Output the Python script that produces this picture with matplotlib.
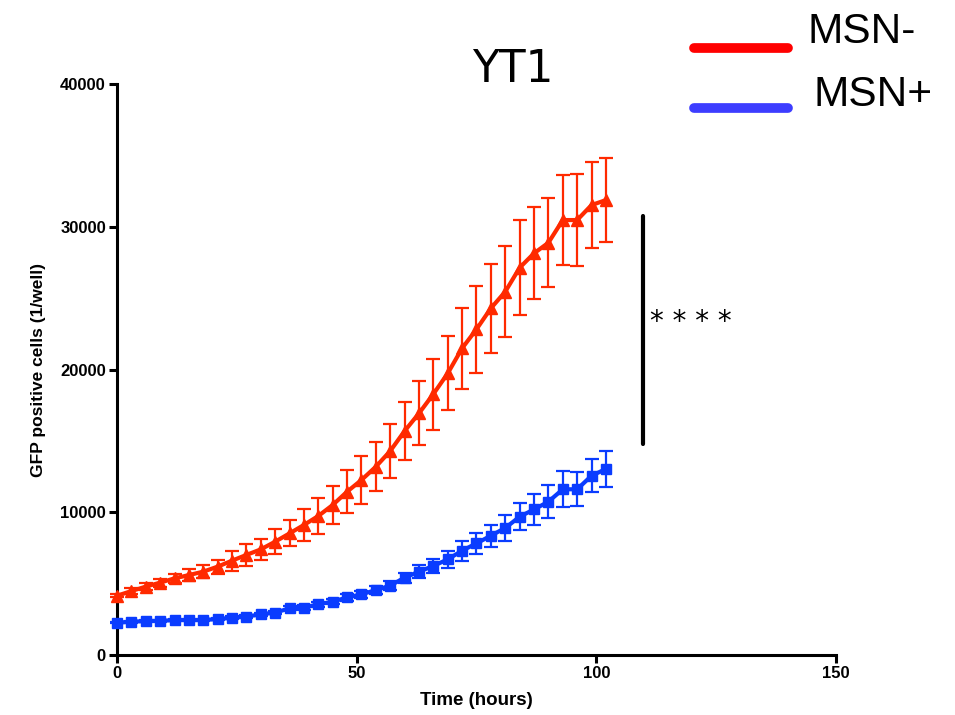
import matplotlib
matplotlib.use("Agg")
import matplotlib.pyplot as plt
from matplotlib.lines import Line2D
import numpy as np

time_h = list(range(0, 103, 3))

msn_minus = [4150, 4480, 4790, 5070, 5370, 5600, 5840, 6190, 6610, 7010, 7400, 7940,
             8520, 9110, 9740, 10510, 11440, 12260, 13190, 14290, 15690, 16930, 18280,
             19730, 21490, 22820, 24290, 25450, 27130, 28140, 28880, 30470, 30470,
             31520, 31870]
msn_minus_err = [120, 200, 250, 280, 300, 410, 470, 490, 700, 760, 760, 860, 910, 1090,
                 1240, 1320, 1490, 1650, 1700, 1915, 2030, 2250, 2490, 2590, 2830, 3060,
                 3100, 3180, 3330, 3210, 3130, 3180, 3200, 3010, 2970]

msn_plus = [2270, 2330, 2380, 2390, 2450, 2450, 2450, 2520, 2610, 2690, 2850, 2970,
            3270, 3320, 3550, 3740, 4030, 4250, 4550, 4860, 5420, 5840, 6240, 6700,
            7310, 7820, 8360, 8900, 9690, 10200, 10740, 11610, 11610, 12560, 13030]
msn_plus_err = [60, 60, 70, 70, 80, 80, 90, 100, 100, 110, 120, 130, 150, 160, 180, 200,
                220, 240, 260, 300, 350, 440, 500, 620, 700, 720, 760, 880, 960, 1110,
                1170, 1260, 1200, 1160, 1260]

x_ticks = [0, 50, 100, 150]
y_ticks = [0, 10000, 20000, 30000, 40000]

red = '#FF2A00'
blue = '#0A3CFF'

plt.rcParams['font.family'] = ['Liberation Sans', 'DejaVu Sans']

fig = plt.figure(figsize=(9.55, 7.15), dpi=100)
ax = fig.add_axes([0.1225, 0.0839, 0.7529, 0.7986])

ax.errorbar(time_h, msn_minus, yerr=msn_minus_err, color=red, marker='^', markersize=8.5,
            linewidth=3, elinewidth=1.6, capsize=5, capthick=1.6, clip_on=False, zorder=3)
ax.errorbar(time_h, msn_plus, yerr=msn_plus_err, color=blue, marker='s', markersize=7,
            linewidth=3, elinewidth=1.6, capsize=5, capthick=1.6, clip_on=False, zorder=4)

ax.set_xlim(0, 150)
ax.set_ylim(0, 40000)
ax.set_xticks(x_ticks)
ax.set_yticks(y_ticks)
for s in ['top', 'right']:
    ax.spines[s].set_visible(False)
for s in ['left', 'bottom']:
    ax.spines[s].set_linewidth(2.2)
ax.tick_params(axis='both', direction='out', length=6, width=2.2, labelsize=12, pad=2)
for lab in ax.get_xticklabels() + ax.get_yticklabels():
    lab.set_fontweight('bold')

ax.set_xlabel('Time (hours)', fontsize=13.5, fontweight='bold', labelpad=8)
ax.set_ylabel('GFP positive cells (1/well)', fontsize=12.5, fontweight='bold', labelpad=10)

fig.text(513 / 955, 1 - 69 / 715, 'YT1', fontsize=31.5, family=['DejaVu Sans'],
         ha='center', va='center')

# significance bar
ax.plot([109.8, 109.8], [14780, 30750], color='black', linewidth=3, clip_on=False,
        solid_capstyle='round')
ax.text(111.2, 23300, '* * * *', fontsize=20, va='center', ha='left', family=['DejaVu Sans'])

# legend
fig.add_artist(Line2D([0.7267, 0.8251], [1 - 48/715, 1 - 48/715], color='#FF0000',
                      linewidth=7, solid_capstyle='round'))
fig.add_artist(Line2D([0.7267, 0.8251], [1 - 108/715, 1 - 108/715], color='#3D3DFF',
                      linewidth=7, solid_capstyle='round'))
fig.text(807 / 955, 1 - 43 / 715, 'MSN-', fontsize=30.5, va='baseline', ha='left')
fig.text(813 / 955, 1 - 106 / 715, 'MSN+', fontsize=30.5, va='baseline', ha='left')

fig.savefig('out.png', dpi=100)
